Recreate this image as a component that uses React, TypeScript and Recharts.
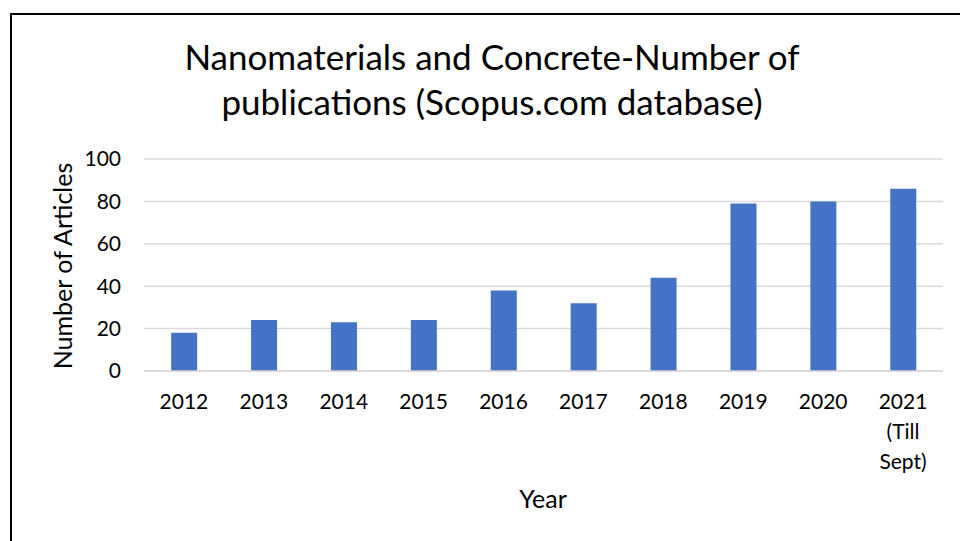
import { BarChart, Bar, XAxis, YAxis, CartesianGrid } from 'recharts'

const years = ['2012', '2013', '2014', '2015', '2016', '2017', '2018', '2019', '2020', '2021\n(Till\nSept)']
const articles = [18, 24, 23, 24, 38, 32, 44, 79, 80, 86]
const yTicks = [0, 20, 40, 60, 80, 100]

const data = years.map((year, i) => ({ year, articles: articles[i] }))

const FONT = 'Lato, "Open Sans", sans-serif'

function YearTick({ x, y, payload }: { x?: number; y?: number; payload?: { value: string } }) {
  const lines = String(payload?.value ?? '').split('\n')
  return (
    <text x={x} y={y} textAnchor="middle" fill="#000" fontSize={21} fontFamily={FONT}>
      {lines.map((l, i) => (
        <tspan key={i} x={x} dy={i === 0 ? 0 : 30}>{l}</tspan>
      ))}
    </text>
  )
}

export default function App() {
  return (
    <div style={{ position: 'absolute', left: 0, top: 0, width: 960, height: 541, overflow: 'hidden', background: '#fff', fontFamily: FONT }}>
      {/* chart frame, only the left and top edges are in view */}
      <div style={{ position: 'absolute', left: 10, top: 13, width: 1000, height: 600, border: '2.5px solid #000', boxSizing: 'border-box' }} />

      <div style={{ position: 'absolute', left: 0, top: 34, width: 984, textAlign: 'center', fontSize: 35, lineHeight: '45px', color: '#000' }}>
        Nanomaterials and Concrete-Number of<br />publications (Scopus.com database)
      </div>

      <div style={{ position: 'absolute', left: 62, top: 266, transform: 'translate(-50%, -50%) rotate(-90deg)', whiteSpace: 'nowrap', fontSize: 25, color: '#000' }}>
        Number of Articles
      </div>

      <div style={{ position: 'absolute', left: 543, top: 498, transform: 'translate(-50%, -50%)', fontSize: 25, color: '#000' }}>
        Year
      </div>

      <div style={{ position: 'absolute', left: 0, top: 0 }}>
        <BarChart width={960} height={541} data={data} margin={{ top: 159, right: 17, bottom: 0, left: 84 }} barCategoryGap="34%">
          <CartesianGrid vertical={false} stroke="#d9d9d9" strokeWidth={1.5} />
          <XAxis
            dataKey="year"
            height={170}
            axisLine={{ stroke: '#d9d9d9', strokeWidth: 1.5 }}
            tickLine={false}
            tickSize={0}
            tickMargin={38}
            interval={0}
            tick={<YearTick />}
          />
          <YAxis
            width={60}
            domain={[0, 100]}
            ticks={yTicks}
            axisLine={false}
            tickLine={false}
            tickSize={0}
            tickMargin={23}
            tick={{ fill: '#000', fontSize: 21, fontFamily: FONT }}
          />
          <Bar dataKey="articles" fill="#4472c4" isAnimationActive={false} />
        </BarChart>
      </div>
    </div>
  )
}
